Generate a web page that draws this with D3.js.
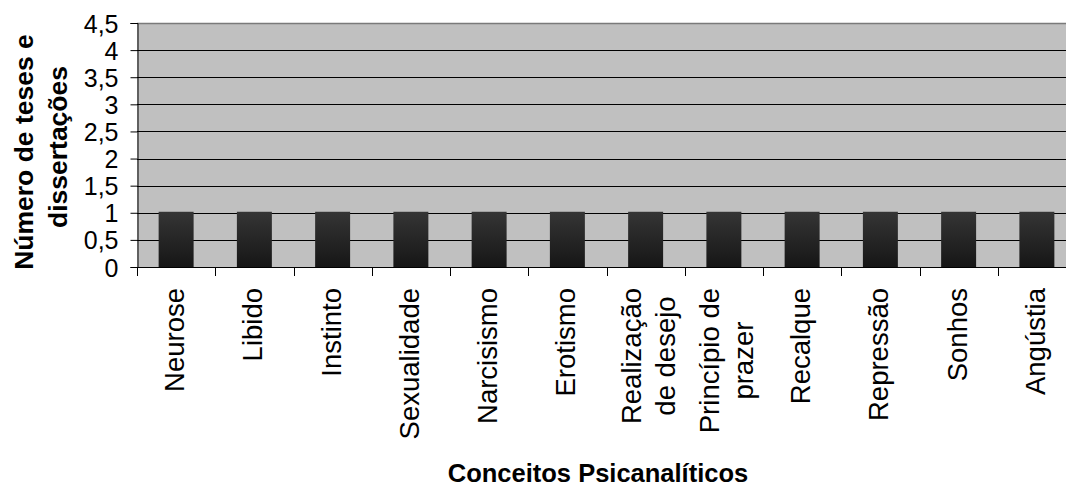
<!DOCTYPE html>
<html>
<head>
<meta charset="utf-8">
<script src="https://cdn.jsdelivr.net/npm/d3@7"></script>
<style>
  html, body { margin: 0; padding: 0; background: #ffffff; overflow: hidden; }
  svg { display: block; font-family: "Liberation Sans", Arial, sans-serif; }
</style>
</head>
<body>
<svg id="chart" width="1066" height="486"></svg>
<script>
// Concepts and number of theses/dissertations per concept
const categories = [
  ["Neurose"], ["Libido"], ["Instinto"], ["Sexualidade"], ["Narcisismo"], ["Erotismo"],
  ["Realização", "de desejo"], ["Princípio de", "prazer"],
  ["Recalque"], ["Repressão"], ["Sonhos"], ["Angústia"]
];
const values = [1, 1, 1, 1, 1, 1, 1, 1, 1, 1, 1, 1];
const yTicks = [0, 0.5, 1, 1.5, 2, 2.5, 3, 3.5, 4, 4.5];
const yTickLabels = ["0", "0,5", "1", "1,5", "2", "2,5", "3", "3,5", "4", "4,5"];
const yTitle = ["Número de teses e", "dissertações"];
const xTitle = "Conceitos Psicanalíticos";

const svg = d3.select("#chart");
const plotLeft = 137, plotRight = 1076, plotTop = 23, plotBottom = 267;
const keys = categories.map((c, i) => i);

const x = d3.scaleBand().domain(keys).range([plotLeft, plotRight]).padding(0);
const y = d3.scaleLinear().domain([0, 4.5]).range([plotBottom, plotTop]);

// plot background
svg.append("rect")
  .attr("x", plotLeft).attr("y", plotTop)
  .attr("width", plotRight - plotLeft).attr("height", plotBottom - plotTop)
  .attr("fill", "#c0c0c0");

// horizontal gridlines
svg.append("g").selectAll("line")
  .data(yTicks.filter(d => d > 0))
  .join("line")
  .attr("x1", plotLeft).attr("x2", plotRight)
  .attr("y1", d => Math.round(y(d)) + 0.5).attr("y2", d => Math.round(y(d)) + 0.5)
  .attr("stroke", d => d === 4.5 ? "#7a7a7a" : "#000")
  .attr("stroke-width", d => d === 4.5 ? 1.5 : 1);

// bar gradient
const grad = svg.append("defs").append("linearGradient")
  .attr("id", "barGrad").attr("x1", 0).attr("y1", 0).attr("x2", 0).attr("y2", 1);
grad.append("stop").attr("offset", "0%").attr("stop-color", "#353535");
grad.append("stop").attr("offset", "100%").attr("stop-color", "#161616");

const barFrac = 0.447;
svg.append("g").selectAll("rect")
  .data(values)
  .join("rect")
  .attr("x", (d, i) => x(i) + x.bandwidth() * (1 - barFrac) / 2)
  .attr("width", x.bandwidth() * barFrac)
  .attr("y", d => y(d) - 1)
  .attr("height", d => plotBottom - y(d) + 1)
  .attr("fill", "url(#barGrad)");

// y axis
const yAxis = d3.axisLeft(y).tickValues(yTicks)
  .tickFormat((d, i) => yTickLabels[i]).tickSize(7).tickPadding(12);
const gy = svg.append("g").attr("transform", `translate(${plotLeft + 0.5},0)`).call(yAxis);
gy.select(".domain").attr("stroke", "#000");
gy.selectAll(".tick line").attr("stroke", "#000");
gy.selectAll(".tick text")
  .attr("fill", "#000")
  .style("font-size", "25px")
  .style("font-family", '"Liberation Sans", Arial, sans-serif')
  .attr("dy", "0.36em");

// x axis line and ticks at category boundaries
const gx = svg.append("g");
gx.append("line")
  .attr("x1", plotLeft).attr("x2", plotRight)
  .attr("y1", plotBottom + 0.5).attr("y2", plotBottom + 0.5)
  .attr("stroke", "#000");
gx.selectAll("line.tick")
  .data(keys.concat([keys.length]))
  .join("line")
  .attr("class", "tick")
  .attr("x1", i => Math.round(i < keys.length ? x(i) : plotRight) + 0.5)
  .attr("x2", i => Math.round(i < keys.length ? x(i) : plotRight) + 0.5)
  .attr("y1", plotBottom).attr("y2", plotBottom + 9)
  .attr("stroke", "#000");

// category labels, rotated, top-aligned below the axis
const labelTop = 288, lineGap = 34;
categories.forEach((lines, i) => {
  const cx = x(i) + x.bandwidth() / 2;
  const g = svg.append("g");
  const texts = lines.map((t, j) => g.append("text")
    .text(t)
    .attr("fill", "#000")
    .style("font-size", "27.5px")
    .attr("text-anchor", "middle"));
  const maxLen = d3.max(texts, t => t.node().getComputedTextLength());
  const cy = labelTop + maxLen / 2;
  texts.forEach((t, j) => {
    const bx = lines.length === 1 ? cx + 8 : cx - 4.5 + j * lineGap;
    t.attr("transform", `translate(${bx},${cy}) rotate(-90)`);
  });
});

// y axis title
yTitle.forEach((t, j) => {
  svg.append("text")
    .text(t)
    .attr("transform", `translate(${33 + j * 34},${j === 0 ? 152 : 147}) rotate(-90)`)
    .attr("text-anchor", "middle")
    .attr("font-weight", "bold")
    .style("font-size", "26.5px")
    .attr("fill", "#000");
});

// x axis title
svg.append("text")
  .text(xTitle)
  .attr("x", 598).attr("y", 482)
  .attr("text-anchor", "middle")
  .attr("font-weight", "bold")
  .style("font-size", "25.5px")
  .attr("fill", "#000");
</script>
</body>
</html>
